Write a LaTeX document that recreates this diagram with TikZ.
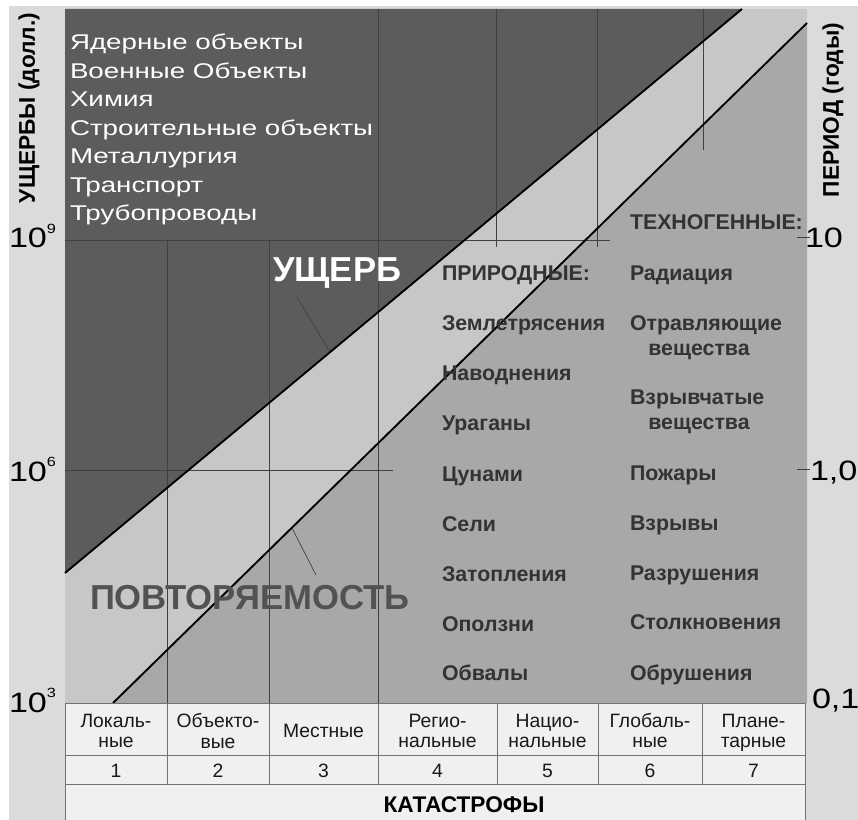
\documentclass[tikz,border=0pt]{standalone}
\usepackage{fontspec}
\setmainfont{Liberation Sans}
\newfontfamily\widefont[FakeStretch=1.22]{Liberation Sans}
\newfontfamily\widerfont[FakeStretch=1.3]{Liberation Sans}
\begin{document}
\begin{tikzpicture}[x=0.75pt,y=-0.75pt,
  every node/.style={inner sep=0pt,outer sep=0pt},
  gridline/.style={draw=black!75,line width=0.5pt},
  diagline/.style={draw=black,line width=1.4pt},
  tabline/.style={draw=black!55,line width=0.6pt},
  ticklab/.style={anchor=base west,font=\widefont\fontsize{21}{24}\selectfont},
  toptxt/.style={anchor=base west,text=white,font=\widerfont\fontsize{16}{18}\selectfont},
  coltxt/.style={anchor=base west,text=black!80,font=\bfseries\fontsize{16}{19}\selectfont},
  coltxtc/.style={anchor=base,text=black!80,font=\bfseries\fontsize{16}{19}\selectfont},
  bigtxt/.style={anchor=base west,font=\bfseries\fontsize{26}{30}\selectfont},
  cell/.style={anchor=base,text=black!90,font=\fontsize{14.5}{17}\selectfont},
  axtitle/.style={font=\bfseries\fontsize{17}{20}\selectfont,rotate=90}]
\useasboundingbox (0,0) rectangle (858,820);
\fill[white] (0,0) rectangle (858,820);
\fill[black!14] (9,6) rectangle (858,820);
% plot regions
\coordinate (pTL) at (65,9);
\coordinate (pTR) at (807,9);
\coordinate (pBL) at (65,703);
\coordinate (pBR) at (807,703);
\coordinate (u1) at (65,573);
\coordinate (u2) at (742,9);
\coordinate (l1) at (113,703);
\coordinate (l2) at (807,23);
\fill[black!22] (pTL) rectangle (pBR);
\fill[black!64] (pTL) -- (u2) -- (u1) -- cycle;
\fill[black!34] (l2) -- (pBR) -- (l1) -- cycle;
% grid
\draw[gridline] (65,240) -- (610,240);
\draw[gridline] (65,470) -- (393,470);
\draw[gridline] (167,240) -- (167,703);
\draw[gridline] (269,240) -- (269,703);
\draw[gridline] (378,9) -- (378,703);
\draw[gridline] (496,9) -- (496,247);
\draw[gridline] (597,9) -- (597,247);
\draw[gridline] (703,9) -- (703,150);
% leader lines
\draw[gridline] (297,297) -- (330,352);
\draw[gridline] (292,528) -- (316,575);
% diagonals
\draw[diagline] (u1) -- (u2);
\draw[diagline] (l1) -- (l2);
% right ticks
\draw[gridline] (797,237) -- (810,237);
\draw[gridline] (797,469) -- (810,469);
% table
\fill[black!6] (65,703) rectangle (805,820);
\draw[tabline] (65,703) -- (805,703);
\draw[tabline] (65,755) -- (805,755);
\draw[tabline] (65,784) -- (805,784);
\draw[tabline] (65,703) -- (65,820);
\draw[tabline] (805,703) -- (805,820);
\foreach \x in {167,269,378,497,598,702} \draw[tabline] (\x,703) -- (\x,784);
% top-left list
\node[toptxt] (t1) at (70,50) {Ядерные объекты};
\node[toptxt] (t2) at (70,78.5) {Военные Объекты};
\node[toptxt] (t3) at (70,107) {Химия};
\node[toptxt] (t4) at (70,135.5) {Строительные объекты};
\node[toptxt] (t5) at (70,164) {Металлургия};
\node[toptxt] (t6) at (70,192.5) {Транспорт};
\node[toptxt] (t7) at (70,221) {Трубопроводы};
% big labels
\node[bigtxt,text=white] (ush) at (273,282) {УЩЕРБ};
\node[bigtxt,text=black!68] (pov) at (90,609) {ПОВТОРЯЕМОСТЬ};
% natural
\node[coltxt] (n0) at (442,281) {ПРИРОДНЫЕ:};
\node[coltxt] (n1) at (442,331) {Землетрясения};
\node[coltxt] (n2) at (442,381) {Наводнения};
\node[coltxt] (n3) at (442,431) {Ураганы};
\node[coltxt] (n4) at (442,481) {Цунами};
\node[coltxt] (n5) at (442,531) {Сели};
\node[coltxt] (n6) at (442,581) {Затопления};
\node[coltxt] (n7) at (442,631) {Оползни};
\node[coltxt] (n8) at (442,680) {Обвалы};
% technogenic
\node[coltxt] (m0) at (630,230) {ТЕХНОГЕННЫЕ:};
\node[coltxt] (m1) at (630,281) {Радиация};
\node[coltxt] (m2) at (630,330) {Отравляющие};
\node[coltxtc] (m2b) at (699,356) {вещества};
\node[coltxt] (m3) at (630,405) {Взрывчатые};
\node[coltxtc] (m3b) at (699,430) {вещества};
\node[coltxt] (m4) at (630,480) {Пожары};
\node[coltxt] (m5) at (630,530) {Взрывы};
\node[coltxt] (m6) at (630,580) {Разрушения};
\node[coltxt] (m7) at (630,629) {Столкновения};
\node[coltxt] (m8) at (630,680) {Обрушения};
% axis titles
\node[axtitle] (yl) at (29,108) {УЩЕРБЫ (долл.)};
\node[axtitle] (yr) at (833,110) {ПЕРИОД (годы)};
% tick labels
\node[ticklab] (y9) at (9,248) {10\raisebox{11pt}{\fontsize{10}{10}\selectfont 9}};
\node[ticklab] (y6) at (9,481) {10\raisebox{11pt}{\fontsize{10}{10}\selectfont 6}};
\node[ticklab] (y3) at (9,712) {10\raisebox{11pt}{\fontsize{10}{10}\selectfont 3}};
\node[ticklab] (r10) at (805,248) {10};
\node[ticklab] (r1) at (810,480) {1,0};
\node[ticklab] (r01) at (812,708) {0,1};
% table cells
\node[cell] (c1a) at (116,727) {Локаль-};
\node[cell] (c1b) at (116,747) {ные};
\node[cell] (c2a) at (218,727) {Объекто-};
\node[cell] (c2b) at (218,748) {вые};
\node[cell] (c3a) at (323.5,737) {Местные};
\node[cell] (c4a) at (437.5,727) {Регио-};
\node[cell] (c4b) at (437.5,747) {нальные};
\node[cell] (c5a) at (547.5,727) {Нацио-};
\node[cell] (c5b) at (547.5,747) {нальные};
\node[cell] (c6a) at (650,727) {Глобаль-};
\node[cell] (c6b) at (650,747) {ные};
\node[cell] (c7a) at (753.5,727) {Плане-};
\node[cell] (c7b) at (753.5,747) {тарные};
\node[cell] (k1) at (116,777) {1};
\node[cell] (k2) at (218,777) {2};
\node[cell] (k3) at (323.5,777) {3};
\node[cell] (k4) at (437.5,777) {4};
\node[cell] (k5) at (547.5,777) {5};
\node[cell] (k6) at (650,777) {6};
\node[cell] (k7) at (753.5,777) {7};
\node[anchor=base,font=\bfseries\fontsize{17}{20}\selectfont] (kat) at (464,812) {КАТАСТРОФЫ};
\end{tikzpicture}
\end{document}
